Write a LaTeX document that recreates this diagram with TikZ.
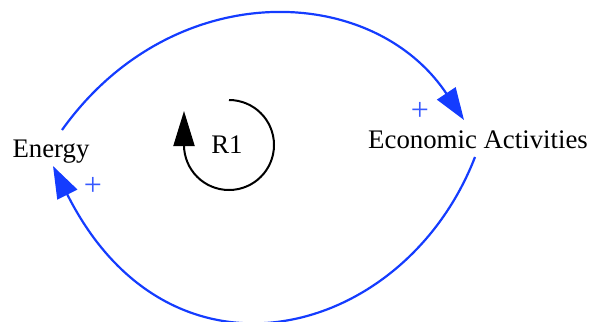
\documentclass[tikz,border=0pt]{standalone}
\usepackage{fontspec}
\setmainfont{Liberation Serif}
\usetikzlibrary{arrows.meta,positioning}
\definecolor{linkblue}{RGB}{20,60,255}
\tikzset{
  varname/.style={font=\fontsize{13.4}{16}\selectfont, inner sep=0pt, anchor=base},
  polarity/.style={font=\fontsize{16}{18}\selectfont, text=linkblue!85, inner sep=0pt},
  causal/.style={-{Triangle[length=16pt,width=11pt]}, line width=1.1pt, linkblue},
  loopln/.style={-{Triangle[length=17.5pt,width=10.5pt]}, line width=1pt, black},
}

\begin{document}
\begin{tikzpicture}[x=0.5pt, y=-0.5pt]
    \useasboundingbox (0,0) rectangle (592,321);
    % variables
    \node[varname] (energy) at (51,157) {Energy};
    \node[varname] (econ) at (478,148) {Economic Activities};
    \node[varname] (loopR1) at (227,153) {R1};
    % link ends
    \coordinate (energyOut) at (62,130);
    \coordinate (econIn) at (464,120);
    \coordinate (econOut) at (475,157);
    \coordinate (energyIn) at (53,166);
    % causal links
    \draw[causal] (energyOut) .. controls (172,-24) and (372,-18) .. (econIn);
    \draw[causal] (econOut) .. controls (405,338) and (171,401) .. (energyIn);
    % polarities
    \node[polarity] (plusEcon) at (420,111) {+};
    \node[polarity] (plusEnergy) at (93,186) {+};
    % loop symbol round R1
    \draw[loopln] (229,100) arc[start angle=-90, end angle=180, radius=45] -- ++(0,-34);
  \end{tikzpicture}
\end{document}
